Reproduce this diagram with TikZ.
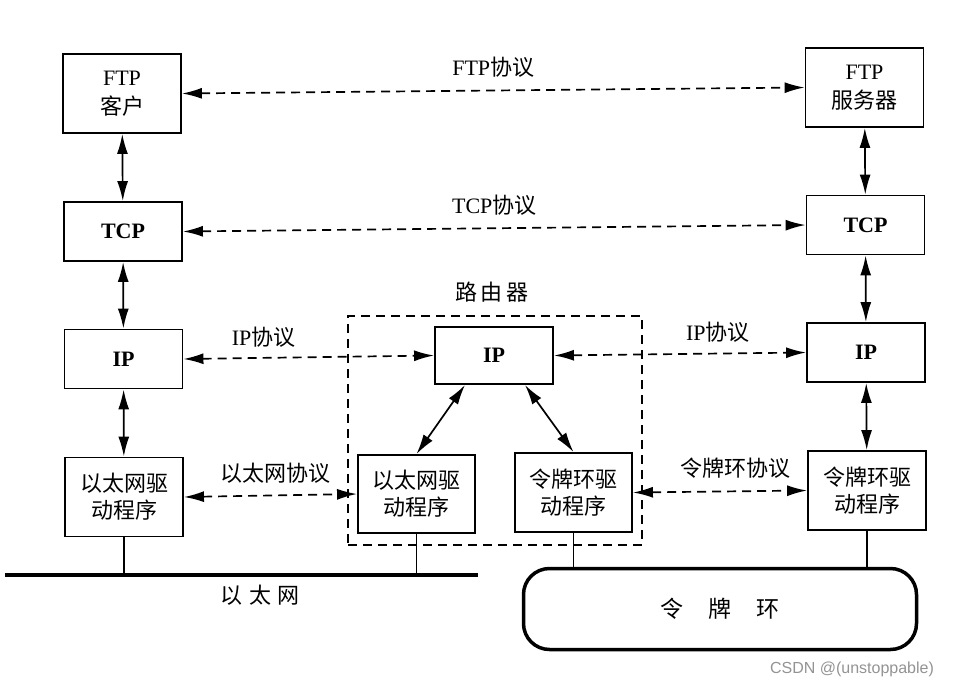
\documentclass[tikz,border=0pt]{standalone}
\usepackage{fontspec}
\setmainfont{Liberation Serif}
\setsansfont{Liberation Sans}
\newfontfamily\cjk{Noto Sans CJK SC}
\usetikzlibrary{arrows.meta}
\begin{document}
\begin{tikzpicture}[x=1pt,y=-1pt,
  box/.style={draw,line width=1.9pt,minimum width=118pt,minimum height=79pt,inner sep=0pt,align=center,font=\fontsize{22}{27}\selectfont},
  sbox/.style={box,minimum height=59pt},
  lbl/.style={font=\fontsize{22}{26}\selectfont,inner sep=0pt},
  dbl/.style={line width=1.7pt,{Latex[length=20pt,width=11pt]}-{Latex[length=20pt,width=11pt]}},
  dsh/.style={dbl,dash pattern=on 9pt off 6pt},
  stub/.style={line width=1.4pt}]
\useasboundingbox (0,0) rectangle (958,690);
% left host
\node[box] (ftpc) at (122,93.5) {FTP\\[2pt]{\cjk 客户}};
\node[sbox] (tcpl) at (123,231.5) {\textbf{TCP}};
\node[sbox] (ipl) at (123.5,359) {\textbf{IP}};
\node[box] (ethl) at (124,497) {{\cjk 以太网驱}\\[0pt]{\cjk 动程序}};
% right host
\node[box] (ftps) at (864.5,87.5) {FTP\\[2pt]{\cjk 服务器}};
\node[sbox] (tcpr) at (865.5,225) {\textbf{TCP}};
\node[sbox] (ipr) at (866,352.5) {\textbf{IP}};
\node[box] (tokr) at (867,490.5) {{\cjk 令牌环驱}\\[0pt]{\cjk 动程序}};
% router
\node[draw,line width=1.6pt,dash pattern=on 9pt off 6pt,minimum width=294pt,minimum height=229pt,inner sep=0pt] (router) at (495,430.5) {};
\node[lbl] (routerlbl) at (492,292) {\cjk 路\,由\,器};
\node[box,minimum height=57pt,fill=white] (ipm) at (494,355.5) {\textbf{IP}};
\node[box,minimum width=117pt,minimum height=78pt,fill=white] (ethm) at (416.5,494) {{\cjk 以太网驱}\\[0pt]{\cjk 动程序}};
\node[box,minimum width=117pt,fill=white] (tokm) at (573.5,492.5) {{\cjk 令牌环驱}\\[0pt]{\cjk 动程序}};
% networks
\coordinate (busL) at (5,575);
\coordinate (busR) at (478,575);
\draw[line width=4pt] (busL) -- (busR);
\node[lbl] (ethlbl) at (260,595) {{\cjk 以\hspace{0.3em}太\hspace{0.3em}网}};
\node[draw,line width=3.5pt,rounded corners=26pt,minimum width=393pt,minimum height=81pt,font=\fontsize{23}{26}\selectfont] (ring) at (720,609) {{\cjk 令\hspace{1.1em}牌\hspace{1.1em}环}};
% stubs
\draw[stub] (ethl.south) -- (ethl.south |- busL);
\draw[stub] (ethm.south) -- (ethm.south |- busL);
\draw[stub] (tokm.south) -- (tokm.south |- ring.north);
\draw[stub] (tokr.south) -- (tokr.south |- ring.north);
% vertical arrows
\draw[dbl] (ftpc) -- (tcpl);
\draw[dbl] (tcpl) -- (ipl);
\draw[dbl] (ipl) -- (ethl);
\draw[dbl] (ftps) -- (tcpr);
\draw[dbl] (tcpr) -- (ipr);
\draw[dbl] (ipr) -- (tokr);
\draw[dbl] ([xshift=-29pt]ipm.south) -- (ethm.north);
\draw[dbl] ([xshift=31pt]ipm.south) -- (tokm.north);
% peer protocols
\draw[dsh] (ftpc.east) -- node[lbl,above=12pt] {FTP{\cjk 协议}} (ftps.west);
\draw[dsh] (tcpl.east) -- node[lbl,above=12pt] {TCP{\cjk 协议}} (tcpr.west);
\draw[dsh] (ipl.east) -- node[lbl,pos=0.32,above=10pt] {IP{\cjk 协议}} (ipm.west);
\draw[dsh] (ipm.east) -- node[lbl,pos=0.65,above=10pt] {IP{\cjk 协议}} (ipr.west);
\draw[dsh] (ethl.east) -- node[lbl,pos=0.53,above=11pt] {\cjk 以太网协议} (ethm.west);
\draw[dsh] (tokm.east) -- node[lbl,pos=0.59,above=12pt] {\cjk 令牌环协议} (tokr.west);
% watermark text
\node[font=\fontsize{16}{18}\selectfont\sffamily,text=gray!85,inner sep=0pt] (wm) at (852,669) {CSDN @(unstoppable)};
\end{tikzpicture}
\end{document}
